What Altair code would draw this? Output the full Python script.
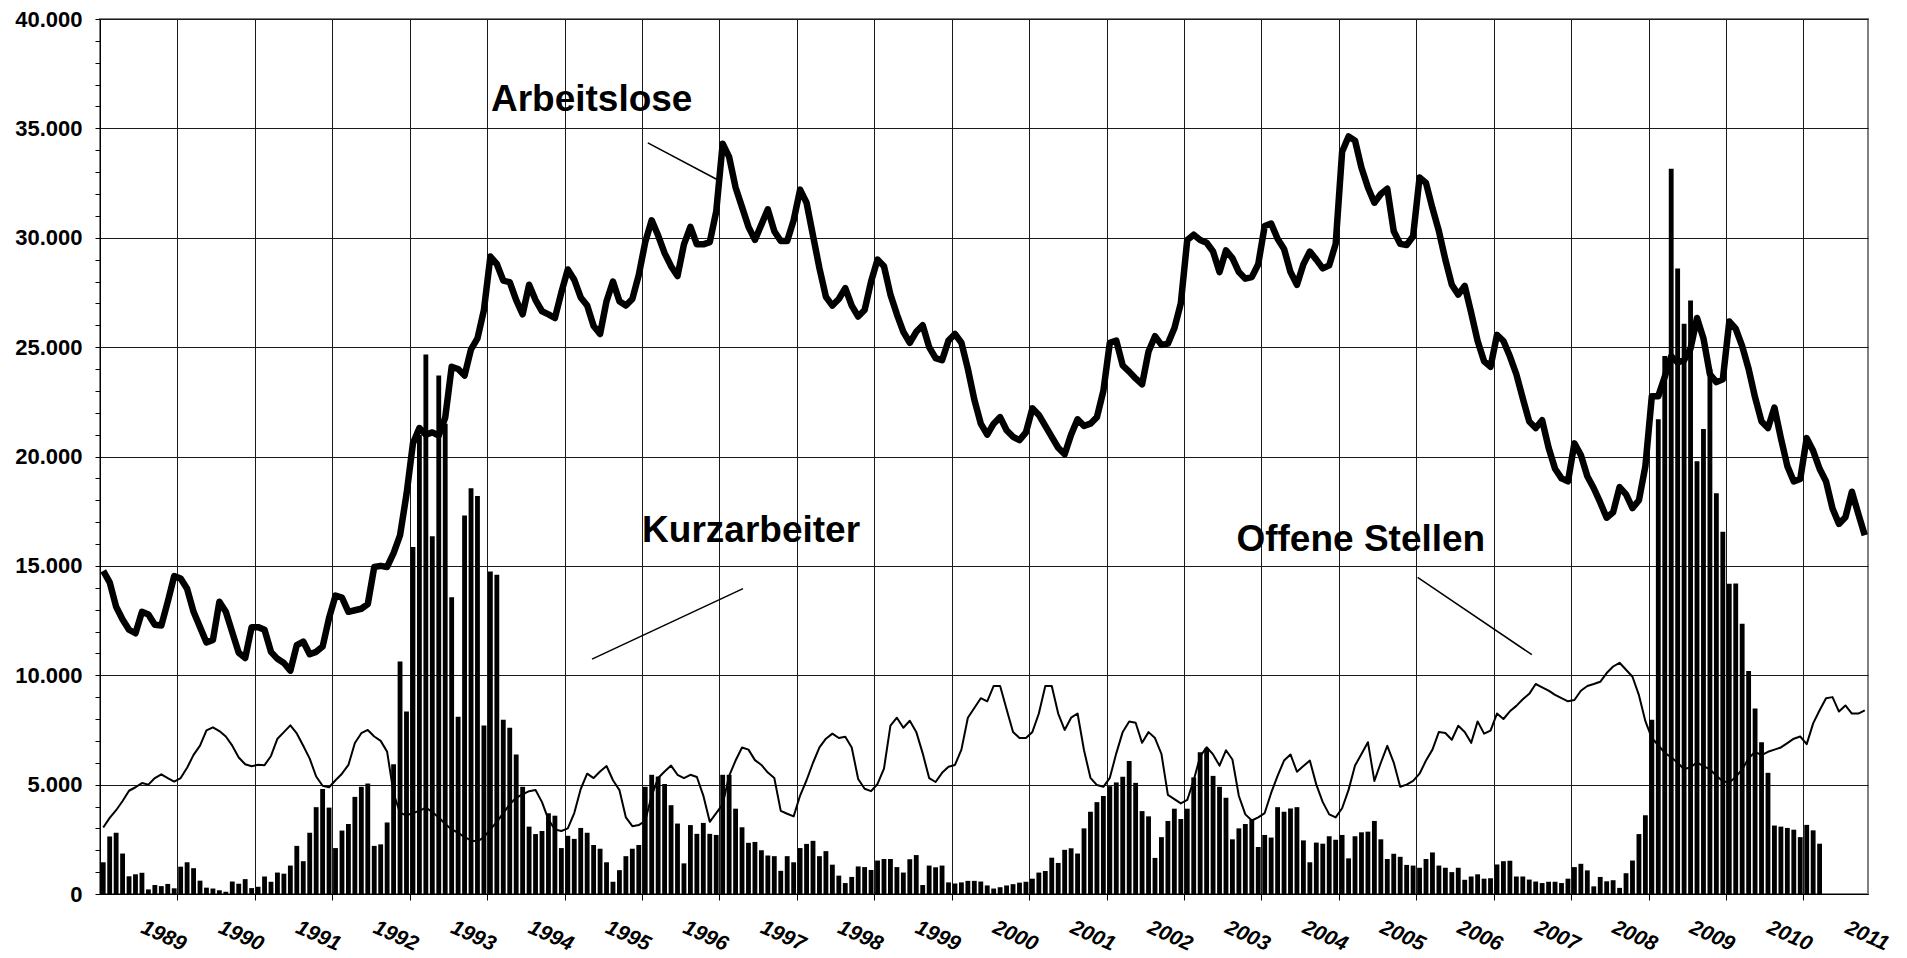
import altair as alt
import pandas as pd

# ---------------- data (monthly, Jan 1988 ...) ----------------
arbeitslose = [
    14770, 14250, 13130, 12550, 12080, 11920, 12900, 12780, 12310, 12270, 13360, 14530,  # 1988
    14420, 13950, 12900, 12200, 11500, 11610, 13360, 12900, 11960, 11030, 10790, 12200,  # 1989
    12200, 12080, 11070, 10750, 10560, 10210, 11380, 11540, 10960, 11070, 11310, 12620,  # 1990
    13640, 13550, 12900, 12970, 13040, 13250, 14950, 15000, 14950, 15580, 16400, 18270,  # 1991
    20600, 21300, 21000, 21100, 20960, 21780, 24100, 24000, 23700, 24900, 25400, 26700,  # 1992
    29140, 28800, 28040, 27970, 27150, 26500, 27850, 27150, 26640, 26500, 26330, 27500,  # 1993
    28550, 28080, 27270, 26900, 25970, 25600, 27100, 28000, 27100, 26900, 27200, 28300,  # 1994
    29800, 30800, 30100, 29300, 28700, 28250, 29700, 30500, 29700, 29700, 29800, 31200,  # 1995
    34300, 33700, 32300, 31400, 30500, 29900, 30600, 31300, 30300, 29850, 29850, 30800,  # 1996
    32200, 31600, 30100, 28600, 27300, 26900, 27200, 27700, 26900, 26400, 26700, 28000,  # 1997
    29000, 28700, 27400, 26500, 25700, 25200, 25700, 26000, 25000, 24500, 24400, 25300,  # 1998
    25600, 25200, 24000, 22600, 21500, 21000, 21500, 21800, 21200, 20900, 20750, 21100,  # 1999
    22200, 21900, 21400, 20900, 20400, 20100, 21000, 21700, 21400, 21500, 21800, 23000,  # 2000
    25200, 25300, 24160, 23880, 23570, 23300, 24800, 25500, 25100, 25160, 25860, 27000,  # 2001
    29900, 30140, 29900, 29770, 29370, 28430, 29420, 29070, 28430, 28130, 28200, 28790,  # 2002
    30540, 30650, 29950, 29490, 28430, 27850, 28790, 29370, 29000, 28600, 28740, 29720,  # 2003
    33930, 34630, 34440, 33200, 32300, 31600, 32000, 32240, 30300, 29720, 29670, 30070,  # 2004
    32750, 32500, 31350, 30300, 29000, 27850, 27400, 27800, 26570, 25280, 24350, 24100,  # 2005
    25560, 25280, 24580, 23760, 22660, 21600, 21300, 21660, 20400, 19440, 19000, 18860,  # 2006
    20600, 20070, 19100, 18550, 17900, 17200, 17450, 18600, 18270, 17640, 18000, 19560,  # 2007
    22760, 22760, 23640, 24580, 24300, 24400, 24930, 26330, 25400, 23760, 23400, 23530,  # 2008
    26170, 25840, 25050, 24000, 22700, 21600, 21300, 22240, 20840, 19560, 18860, 18970,  # 2009
    20840, 20260, 19440, 18860, 17620, 16920, 17220, 18390, 17380, 16400,                # 2010
]

offene_stellen = [
    3040, 3480, 3830, 4250, 4720, 4880, 5070, 5000, 5300, 5470, 5300, 5140,   # 1988
    5300, 5770, 6360, 6780, 7480, 7620, 7450, 7200, 6780, 6240, 5930, 5840,   # 1989
    5910, 5890, 6310, 7100, 7400, 7710, 7340, 6780, 6190, 5370, 4950, 4880,   # 1990
    5200, 5500, 5900, 6900, 7350, 7500, 7200, 7000, 6500, 4600, 3700, 3600,   # 1991
    3700, 3800, 3950, 3750, 3500, 3200, 2950, 2800, 2600, 2450, 2400, 2600,   # 1992
    2950, 3300, 3700, 4100, 4400, 4550, 4700, 4750, 4200, 3400, 2950, 2880,   # 1993
    3000, 3700, 4800, 5500, 5300, 5600, 5850, 5200, 4750, 3500, 3100, 3150,   # 1994
    3350, 4500, 5300, 5600, 5870, 5450, 5300, 5450, 5350, 4500, 3300, 3700,   # 1995
    4100, 5400, 6100, 6700, 6600, 6120, 5900, 5550, 5300, 3800, 3670, 3550,   # 1996
    4500, 5200, 6000, 6700, 7100, 7330, 7130, 7190, 6700, 5260, 4810, 4700,   # 1997
    5030, 5730, 7700, 8060, 7600, 7920, 7410, 6430, 5300, 5120, 5540, 5820,   # 1998
    5900, 6600, 8060, 8500, 8950, 8810, 9510, 9510, 8450, 7410, 7130, 7130,   # 1999
    7410, 8250, 9510, 9510, 8250, 7500, 8060, 8250, 6570, 5310, 4980, 4900,   # 2000
    5310, 6430, 7410, 7890, 7830, 6910, 7400, 7130, 6400, 4530, 4340, 4140,   # 2001
    4300, 5200, 6290, 6710, 6380, 5870, 6570, 6150, 4480, 3640, 3360, 3500,   # 2002
    3700, 4620, 5400, 6100, 6380, 5590, 5850, 6100, 5000, 4200, 3640, 3500,   # 2003
    3920, 4760, 5870, 6400, 6940, 5170, 6000, 6770, 6010, 4900, 5000, 5170,   # 2004
    5500, 6100, 6600, 7410, 7360, 7050, 7690, 7410, 6910, 7890, 7330, 7470,   # 2005
    8250, 8000, 8350, 8600, 8900, 9150, 9600, 9450, 9300, 9100, 8950, 8810,   # 2006
    8870, 9290, 9510, 9600, 9700, 10100, 10400, 10570, 10250, 9930, 9090, 7900,  # 2007
    7130, 6800, 6450, 6250, 6000, 5700, 5800, 6010, 5850, 5700, 5400, 5150,   # 2008
    5100, 5350, 5700, 6200, 6500, 6350, 6500, 6600, 6700, 6900, 7100, 7200,   # 2009
    6850, 7800, 8400, 8950, 9000, 8340, 8620, 8250, 8250, 8390,               # 2010
]

kurzarbeiter = [
    1450, 2630, 2800, 1850, 810, 900, 970, 210, 410, 360, 460, 260,               # 1988
    1250, 1450, 1180, 610, 290, 250, 170, 100, 570, 470, 680, 270,                # 1989
    330, 800, 560, 980, 930, 1300, 2200, 1500, 2800, 3970, 4800, 3950,            # 1990
    2100, 2900, 3200, 4440, 4900, 5050, 2200, 2270, 3270, 5930, 10630, 8340,      # 1991
    15860, 21000, 24660, 16360, 23700, 21500, 13570, 8100, 17300, 18550, 18200, 7700,  # 1992
    14740, 14600, 7970, 7600, 6380, 4900, 3080, 2740, 2880, 3690, 3580, 2100,     # 1993
    2660, 2520, 3020, 2800, 2240, 2070, 1450, 560, 1090, 1730, 2070, 2240,        # 1994
    4900, 5450, 5370, 5030, 4060, 3220, 1400, 3150, 2750, 3250, 2750, 2700,       # 1995
    5450, 5450, 3900, 3050, 2340, 2380, 2000, 1760, 1730, 1060, 1730, 1450,       # 1996
    2100, 2290, 2430, 1730, 1960, 1340, 840, 500, 780, 1260, 1230, 1100,          # 1997
    1530, 1600, 1600, 1230, 980, 1590, 1780, 410, 1300, 1220, 1300, 530,          # 1998
    480, 530, 600, 600, 570, 390, 250, 310, 390, 450, 520, 560,                   # 1999
    700, 980, 1050, 1660, 1420, 2020, 2090, 1850, 3000, 3760, 4200, 4480,         # 2000
    4930, 5100, 5360, 6080, 5080, 3790, 3550, 1650, 2600, 3340, 3900, 3430,       # 2001
    3900, 5330, 6480, 6650, 5400, 4900, 4400, 2500, 3000, 3200, 3400, 2150,       # 2002
    2700, 2580, 3970, 3760, 3910, 3970, 2450, 1450, 2350, 2300, 2640, 2480,       # 2003
    2700, 1630, 2640, 2820, 2850, 3340, 2500, 1600, 1840, 1700, 1330, 1300,       # 2004
    1200, 1600, 1900, 1300, 1200, 1000, 1200, 650, 800, 900, 700, 720,            # 2005
    1350, 1500, 1520, 800, 800, 660, 570, 500, 560, 560, 500, 700,                # 2006
    1230, 1380, 1080, 350, 780, 580, 630, 280, 950, 1530, 2740, 3600,             # 2007
    7970, 21700, 24600, 33150, 28600, 26070, 27130, 19780, 21260, 24000, 18320, 16560,  # 2008
    14180, 14200, 12360, 10200, 8480, 6940, 5540, 3130, 3080, 3020, 2940, 2600,   # 2009
    3160, 2910, 2300,                                                             # 2010
]

year_labels = [str(y) for y in range(1989, 2012)]

# series annotations (label, anchor in data units) and leader lines
annot_labels = ["Arbeitslose", "Kurzarbeiter", "Offene Stellen"]
annot_x = [76.2, 100.9, 195.4]
annot_y = [35800, 16070, 15660]
leader_x = [84.9, 76.25, 204.2]
leader_y = [34340, 10740, 14470]
leader_x2 = [95.7, 99.65, 221.9]
leader_y2 = [32650, 13960, 10940]

# ---------------- tables ----------------
N = len(arbeitslose)
lines_df = pd.DataFrame({
    "pos": [i + 0.5 for i in range(N)],
    "arbeitslose": arbeitslose,
    "offene": offene_stellen,
})
bars_df = pd.DataFrame({
    "start": [i + 0.125 for i in range(len(kurzarbeiter))],
    "end": [i + 0.875 for i in range(len(kurzarbeiter))],
    "kurz": kurzarbeiter,
})
years_df = pd.DataFrame({
    "label": year_labels,
    "pos": [(int(y) - 1988) * 12 for y in year_labels],
})
annot_df = pd.DataFrame({"label": annot_labels, "x": annot_x, "y": annot_y})
leader_df = pd.DataFrame({"x": leader_x, "y": leader_y, "x2": leader_x2, "y2": leader_y2})

FONT = "Liberation Sans"
W, H = 1768, 875

xs = alt.Scale(domain=[0, N], nice=False, zero=False)
ys = alt.Scale(domain=[0, 40000], nice=False)

X_AX = alt.Axis(
    values=list(range(12, N - 1, 12)), labels=False, title=None,
    grid=True, gridColor="#1a1a1a", gridWidth=1,
    ticks=True, tickSize=6, tickColor="#000",
    domain=True, domainColor="#000", domainWidth=1,
)
Y_AX = alt.Axis(
    values=list(range(0, 40001, 1000)), title=None,
    grid=True, gridColor="#1a1a1a", gridWidth=1,
    gridOpacity={"condition": {"test": "datum.value % 5000 === 0", "value": 1}, "value": 0},
    labelExpr="datum.value % 5000 === 0 ? replace(format(datum.value, ','), ',', '.') : ''",
    labelOverlap=False, labelFont=FONT, labelFontSize=22, labelFontWeight="bold",
    labelColor="#000", labelPadding=13,
    ticks=True, tickSize=5, tickColor="#000",
    domain=True, domainColor="#000", domainWidth=1,
)

bars = alt.Chart(bars_df).mark_rect(color="#000").encode(
    x=alt.X("start:Q", scale=xs, axis=X_AX),
    x2="end:Q",
    y=alt.Y("kurz:Q", scale=ys, axis=Y_AX),
    y2=alt.datum(0),
)

thin = alt.Chart(lines_df).mark_line(color="#000", strokeWidth=2, strokeJoin="round").encode(
    x=alt.X("pos:Q", scale=xs, axis=X_AX),
    y=alt.Y("offene:Q", scale=ys, axis=Y_AX),
)

thick = alt.Chart(lines_df).mark_line(color="#000", strokeWidth=6.5, strokeJoin="round").encode(
    x=alt.X("pos:Q", scale=xs, axis=X_AX),
    y=alt.Y("arbeitslose:Q", scale=ys, axis=Y_AX),
)

leaders = alt.Chart(leader_df).mark_rule(color="#000", strokeWidth=1.5).encode(
    x=alt.X("x:Q", scale=xs, axis=X_AX),
    y=alt.Y("y:Q", scale=ys, axis=Y_AX),
    x2="x2:Q",
    y2="y2:Q",
)

annots = alt.Chart(annot_df).mark_text(
    font=FONT, fontSize=37, fontWeight="bold", color="#000",
    align="center", baseline="alphabetic",
).encode(
    x=alt.X("x:Q", scale=xs, axis=X_AX),
    y=alt.Y("y:Q", scale=ys, axis=Y_AX),
    text="label:N",
)

year_text = alt.Chart(years_df).mark_text(
    font=FONT, fontSize=21, fontWeight="bold", fontStyle="italic", color="#000",
    angle=24, align="center", baseline="middle", dx=-13, dy=5,
).encode(
    x=alt.X("pos:Q", scale=xs, axis=X_AX),
    y=alt.value(H + 43),
    text="label:N",
)

chart = alt.layer(bars, thin, thick, leaders, annots, year_text).properties(
    width=W, height=H,
    autosize=alt.AutoSizeParams(type="none"),
    padding={"left": 92, "top": 11, "right": 30, "bottom": 62},
    background="#ffffff",
).configure_view(stroke="#808080", strokeWidth=2)

chart.save("out.html", embed_options={"renderer": "svg", "actions": False})
